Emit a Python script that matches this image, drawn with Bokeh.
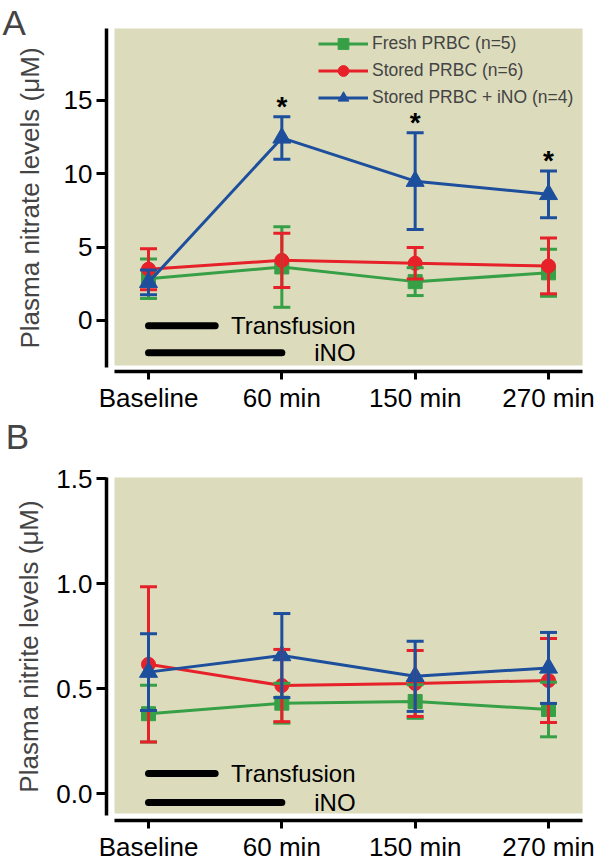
from bokeh.plotting import figure
from bokeh.models import (ColumnDataSource, Whisker, TeeHead, BoxAnnotation, Range1d,
                          FixedTicker, Legend, LegendItem, Label)
from bokeh.layouts import column
from bokeh.embed import file_html
from bokeh.resources import INLINE
from bokeh.core.properties import value

# ---------------- data ----------------
timepoints = ["Baseline", "60 min", "150 min", "270 min"]
x_pos = [0, 1, 2, 3]

series_names = ["Fresh PRBC (n=5)", "Stored PRBC (n=6)", "Stored PRBC + iNO (n=4)"]
series_colors = ["#37a047", "#e62129", "#1d4f9d"]
series_markers = ["square", "circle", "triangle"]

# Panel A: plasma nitrate (uM), mean and error
nitrate_fresh = [2.85, 3.65, 2.65, 3.25]
nitrate_fresh_err = [1.35, 2.75, 0.95, 1.6]
nitrate_stored = [3.5, 4.1, 3.9, 3.72]
nitrate_stored_err = [1.4, 1.85, 1.07, 1.9]
nitrate_ino = [2.6, 12.45, 9.5, 8.6]
nitrate_ino_err = [0.85, 1.45, 3.3, 1.6]
nitrate_significant = [False, True, True, True]

# Panel B: plasma nitrite (uM), mean and error
nitrite_fresh = [0.38, 0.43, 0.438, 0.40]
nitrite_fresh_err = [0.135, 0.095, 0.08, 0.13]
nitrite_stored = [0.615, 0.514, 0.524, 0.538]
nitrite_stored_err = [0.37, 0.172, 0.157, 0.2]
nitrite_ino = [0.578, 0.657, 0.558, 0.598]
nitrite_ino_err = [0.183, 0.2, 0.167, 0.169]

nitrate_ticks = [0, 5, 10, 15]
nitrite_ticks = [0.0, 0.5, 1.0, 1.5]

# treatment periods (in time-point index units)
transfusion_span = [0, 0.5]
ino_span = [0, 1]
period_labels = ["Transfusion", "iNO"]
period_label_x = 1.553
nitrate_period_y = [-0.35, -2.2]
nitrite_period_y = [0.095, -0.043]

FONT = "Liberation Sans"
BG = "#dcdcbc"

# ---------------- layout (data-space geometry of each panel) ----------------
X_VIEW = (-1.11, 3.3975)        # whole canvas width in x units
X_AXIS_BOUNDS = (-0.255, 3.256)
Y_AXIS_AT_X = -0.315


def make_panel(letter, letter_xy, ylabel, means, errs, yview, x_axis_at, ybounds,
               bg_bottom, yticks, tick_fmt, height, label_standoff, period_y,
               significant=None, show_legend=False, legend_y=0):
    p = figure(width=601, height=height,
               x_range=Range1d(*X_VIEW), y_range=Range1d(*yview),
               output_backend="svg", toolbar_location=None, min_border=0)
    p.outline_line_color = None
    p.xgrid.visible = False
    p.ygrid.visible = False
    p.background_fill_color = "white"
    p.border_fill_color = "white"

    p.add_layout(BoxAnnotation(left=X_AXIS_BOUNDS[0], right=X_AXIS_BOUNDS[1],
                               bottom=bg_bottom, top=ybounds[1], fill_color=BG,
                               fill_alpha=1.0, line_alpha=0, level="underlay"))

    # axes (drawn at fixed positions, offset from the shaded area)
    for ax in (p.xaxis[0], p.yaxis[0]):
        ax.axis_line_width = 3.5
        ax.axis_line_color = "black"
        ax.major_tick_line_width = 3
        ax.major_tick_line_color = "black"
        ax.major_tick_in = 0
        ax.minor_tick_line_color = None
        ax.major_label_text_font = FONT
        ax.major_label_text_font_size = "26px"
        ax.major_label_text_color = "black"
    xa = p.xaxis[0]
    xa.fixed_location = x_axis_at
    xa.ticker = FixedTicker(ticks=x_pos)
    xa.major_label_overrides = {x: t for x, t in zip(x_pos, timepoints)}
    xa.major_tick_out = 8
    xa.major_label_standoff = 3
    xa.bounds = X_AXIS_BOUNDS
    ya = p.yaxis[0]
    ya.fixed_location = Y_AXIS_AT_X
    ya.ticker = FixedTicker(ticks=yticks)
    ya.major_label_overrides = {t: tick_fmt.format(t) for t in yticks}
    ya.major_tick_out = 10
    ya.major_label_standoff = 4
    ya.bounds = ybounds
    ya.axis_label = ylabel
    ya.axis_label_text_font = FONT
    ya.axis_label_text_font_size = "26px"
    ya.axis_label_text_font_style = "normal"
    ya.axis_label_standoff = label_standoff

    # treatment bars
    for span, yv, lab in zip([transfusion_span, ino_span], period_y, period_labels):
        p.line(span, [yv, yv], line_width=7, line_color="black", line_cap="round")
        p.text(x=[period_label_x], y=[yv], text=[lab], text_font=value(FONT),
               text_font_size="24px", text_align="right", text_baseline="alphabetic",
               y_offset=0, text_color="black")

    items = []
    for idx in range(3):
        m, e = means[idx], errs[idx]
        name, c, mk = series_names[idx], series_colors[idx], series_markers[idx]
        src = ColumnDataSource(dict(x=x_pos, y=m,
                                    upper=[a + b for a, b in zip(m, e)],
                                    lower=[a - b for a, b in zip(m, e)]))
        ln = p.line("x", "y", source=src, line_color=c, line_width=3)
        w = Whisker(base="x", upper="upper", lower="lower", source=src, level="glyph",
                    line_color=c, line_width=3,
                    upper_head=TeeHead(size=17, line_color=c, line_width=3),
                    lower_head=TeeHead(size=17, line_color=c, line_width=3))
        p.add_layout(w)
        size = 18 if mk == "triangle" else 14
        sc = p.scatter("x", "y", source=src, marker=mk, size=size,
                       fill_color=c, line_color=c)
        items.append(LegendItem(label=name, renderers=[ln, sc]))
        if significant is not None and idx == 2:
            sx = [x for x, s in zip(x_pos, significant) if s]
            sy = [a + b for a, b, s in zip(m, e, significant) if s]
            p.text(x=sx, y=sy, text=["*"] * len(sx), text_font=value(FONT),
                   text_font_size="28px", text_font_style="bold", text_align="center",
                   text_baseline="alphabetic", y_offset=-10, text_color="black")

    if show_legend:
        leg = Legend(items=items, location=(318, legend_y), glyph_width=50, glyph_height=27,
                     label_height=27, spacing=0, padding=0, margin=0, label_standoff=4,
                     label_text_font=FONT, label_text_font_size="17.5px",
                     label_text_baseline="middle",
                     border_line_color=None, background_fill_alpha=0)
        p.add_layout(leg)

    p.add_layout(Label(x=letter_xy[0], y=letter_xy[1], text=letter, text_font=FONT,
                       text_font_size="35px", text_baseline="alphabetic",
                       text_align="left"))
    return p


pA = make_panel("A", (-1.095, 20.3), "Plasma nitrate levels (\u03bcM)",
                [nitrate_fresh, nitrate_stored, nitrate_ino],
                [nitrate_fresh_err, nitrate_stored_err, nitrate_ino_err],
                (-6.2727, 21.818), -3.51, (-3.2, 19.91), -3.06,
                nitrate_ticks, "{:.0f}", 412, 16, nitrate_period_y,
                significant=nitrate_significant, show_legend=True, legend_y=301)

pB = make_panel("B", (-1.07, 1.7), "Plasma nitrite levels (\u03bcM)",
                [nitrite_fresh, nitrite_stored, nitrite_ino],
                [nitrite_fresh_err, nitrite_stored_err, nitrite_ino_err],
                (-0.3238, 1.8143), -0.1286, (-0.105, 1.505), -0.095,
                nitrite_ticks, "{:.1f}", 449, 9, nitrite_period_y)

layout = column(pA, pB, spacing=0)
open("out.html", "w").write(file_html(layout, INLINE))
